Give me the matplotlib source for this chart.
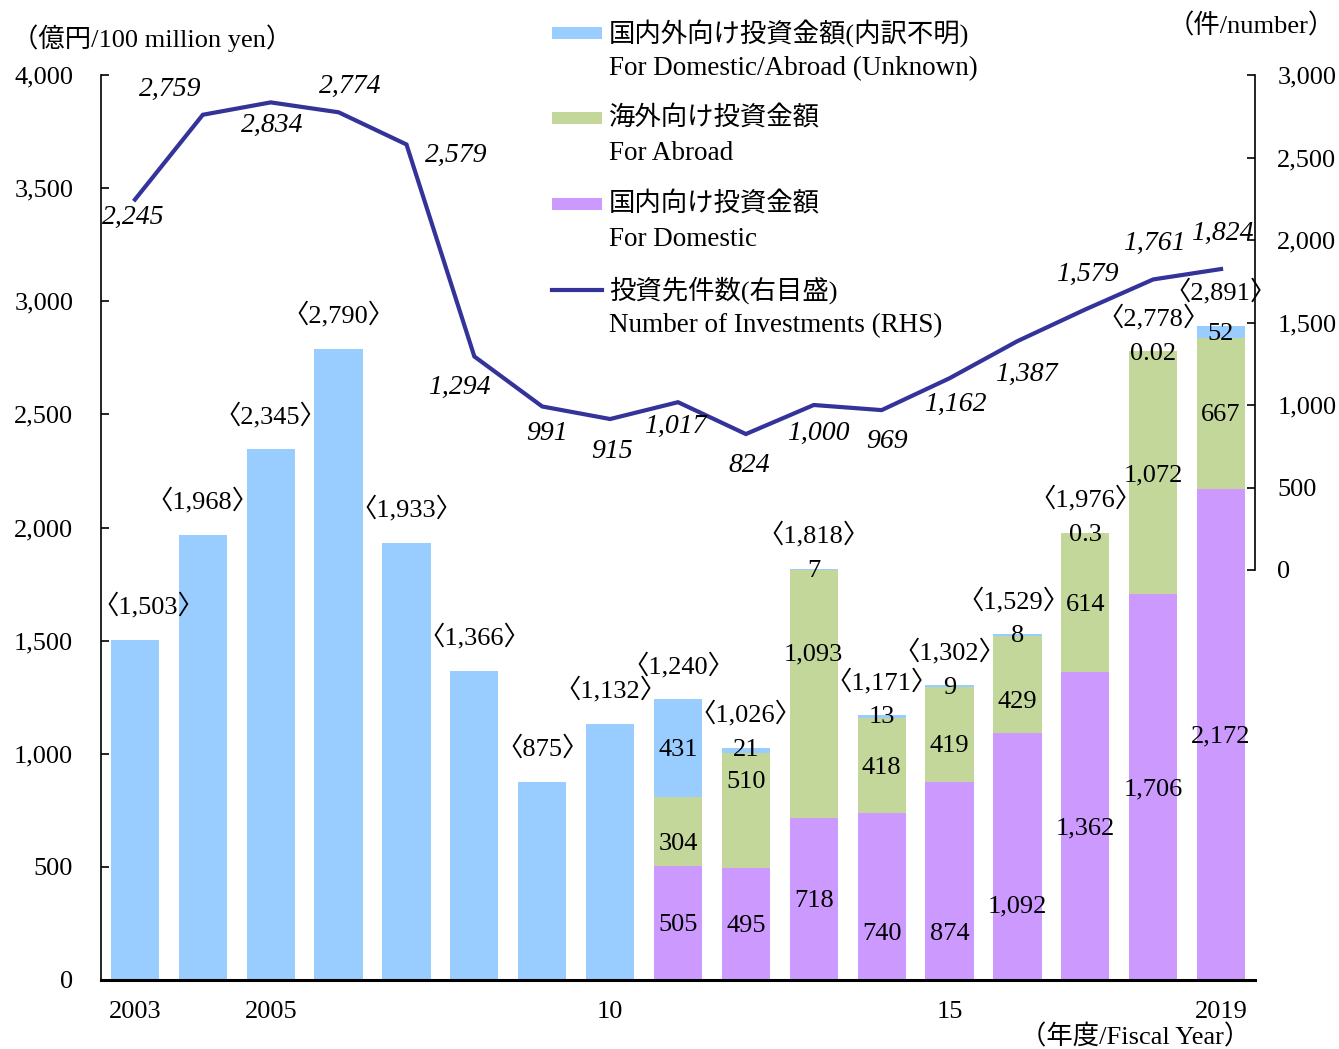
import numpy as np
import matplotlib.pyplot as plt
from matplotlib.patches import Rectangle
from matplotlib.lines import Line2D

plt.rcParams['font.family'] = ['Liberation Serif', 'Noto Sans CJK JP']

# data (100 million yen / number of investments)
years = list(range(2003, 2020))
domestic = [0, 0, 0, 0, 0, 0, 0, 0, 505, 495, 718, 740, 874, 1092, 1362, 1706, 2172]
abroad = [0, 0, 0, 0, 0, 0, 0, 0, 304, 510, 1093, 418, 419, 429, 614, 1072, 667]
unknown = [1503, 1968, 2345, 2790, 1933, 1366, 875, 1132, 431, 21, 7, 13, 9, 8, 0.3, 0.02, 52]
totals = [1503, 1968, 2345, 2790, 1933, 1366, 875, 1132, 1240, 1026, 1818, 1171, 1302,
          1529, 1976, 2778, 2891]
counts = [2245, 2759, 2834, 2774, 2579, 1294, 991, 915, 1017, 824, 1000, 969, 1162,
          1387, 1579, 1761, 1824]
xtick_labels = {2003: '2003', 2005: '2005', 2010: '10', 2015: '15', 2019: '2019'}

C_BLUE = '#99CCFF'
C_GREEN = '#C4D79B'
C_PURPLE = '#CC99FF'
C_LINE = '#333399'
FS = 19

W, H = 1339, 1049
fig = plt.figure(figsize=(W / 100, H / 100), dpi=100)
ax = fig.add_axes([101 / W, 1 - 980 / H, (1255 - 101) / W, (980 - 75) / H])
ax2 = ax.twinx()

x = np.arange(len(years))
d = np.array(domestic, dtype=float)
a = np.array(abroad, dtype=float)
u = np.array(unknown, dtype=float)

bw = 0.71
ax.bar(x, d, bw, color=C_PURPLE, zorder=2)
ax.bar(x, a, bw, bottom=d, color=C_GREEN, zorder=2)
ax.bar(x, u, bw, bottom=d + a, color=C_BLUE, zorder=2)

ax.set_xlim(-0.5, len(years) - 0.5)
ax.set_ylim(0, 4000)
ax.set_yticks(range(0, 4001, 500))
ax.set_yticklabels([f'{v:,}' for v in range(0, 4001, 500)])
ax.set_xticks([years.index(y) for y in xtick_labels])
ax.set_xticklabels(list(xtick_labels.values()))
ax.tick_params(axis='x', length=0, pad=15, labelsize=FS)
ax.tick_params(axis='y', direction='in', length=6, width=1.2, pad=20, labelsize=FS)
for s in ['top', 'right']:
    ax.spines[s].set_visible(False)
ax.spines['left'].set_linewidth(1.2)
ax.spines['bottom'].set_linewidth(2.2)

# right axis: 0 sits at pixel 570, 3000 at pixel 75
ax2.set_ylim(-410 * 3000 / 495, 3000)
ax2.set_yticks(range(0, 3001, 500))
ax2.set_yticklabels([f'{v:,}' for v in range(0, 3001, 500)])
ax2.tick_params(axis='y', direction='in', length=6, width=1.2, pad=16, labelsize=FS)
for s in ['top', 'left', 'bottom']:
    ax2.spines[s].set_visible(False)
ax2.spines['right'].set_bounds(0, 3000)
ax2.spines['right'].set_linewidth(1.2)

ax2.plot(x, counts, color=C_LINE, lw=3, solid_joinstyle='miter', zorder=3)

# line value labels (pixel offsets)
cnt_off = [(-2, -18), (-33, 25), (2, -23), (12, 26), (50, -11), (-15, -31), (5, -27),
           (2, -32), (-3, -24), (3, -31), (5, -28), (5, -31), (6, -26), (9, -33),
           (2, 35), (1, 36), (1, 36)]
for i, v in enumerate(counts):
    ax2.annotate(f'{v:,}', (x[i], v), xytext=cnt_off[i], textcoords='offset pixels',
                 ha='center', va='center', fontsize=20, style='italic')

# total labels
tot_dx = {2003: 13, 2016: -4}
for i, v in enumerate(totals):
    ax.annotate(f'〈{v:,}〉', (x[i], v), xytext=(tot_dx.get(years[i], 0), 34),
                textcoords='offset pixels', ha='center', va='center', fontsize=FS)


def fmt(v):
    return f'{v:,}' if float(v).is_integer() else str(v)


# segment labels, a few nudged (data units) to match the original placement
dom_nudge = {2014: -155, 2015: -225, 2016: -212}
abr_nudge = {2011: -44, 2012: 137, 2013: 186, 2015: -40, 2016: -66}
for i, yr in enumerate(years):
    if domestic[i] > 0:
        ax.text(x[i], d[i] / 2 + dom_nudge.get(yr, 0) - 10, fmt(domestic[i]),
                ha='center', va='center', fontsize=FS, zorder=4)
    if abroad[i] > 0:
        ax.text(x[i], d[i] + a[i] / 2 + abr_nudge.get(yr, 0) - 10, fmt(abroad[i]),
                ha='center', va='center', fontsize=FS, zorder=4)
    if abroad[i] > 0 or domestic[i] > 0:
        yy = d[i] + a[i] + u[i] / 2 if u[i] >= 50 else totals[i]
        ax.text(x[i], yy - 10, fmt(unknown[i]), ha='center', va='center', fontsize=FS,
                zorder=4)

# unit labels
fig.text(12 / W, 1 - 38 / H, '（億円/100 million yen）', fontsize=FS, ha='left', va='center')
fig.text(1335 / W, 1 - 26 / H, '（件/number）', fontsize=FS, ha='right', va='center')
fig.text(1250 / W, 1 - 1037 / H, '（年度/Fiscal Year）', fontsize=FS, ha='right', va='center')

# legend
leg = [('patch', C_BLUE, 33, '国内外向け投資金額(内訳不明)', 'For Domestic/Abroad (Unknown)'),
       ('patch', C_GREEN, 118, '海外向け投資金額', 'For Abroad'),
       ('patch', C_PURPLE, 204, '国内向け投資金額', 'For Domestic'),
       ('line', C_LINE, 290, '投資先件数(右目盛)', 'Number of Investments (RHS)')]
for kind, col, py, jp, en in leg:
    if kind == 'patch':
        fig.patches.append(Rectangle((552 / W, 1 - (py + 6) / H), 50 / W, 12 / H,
                                     facecolor=col, edgecolor='none',
                                     transform=fig.transFigure))
    else:
        fig.lines.append(Line2D([552 / W, 602 / W], [1 - py / H, 1 - py / H],
                                color=col, lw=3, transform=fig.transFigure))
    fig.text(609 / W, 1 - py / H, jp, fontsize=19, ha='left', va='center')
    fig.text(609 / W, 1 - (py + 36) / H, en, fontsize=19.5, ha='left', va='center')

fig.savefig('out.png', dpi=100)
